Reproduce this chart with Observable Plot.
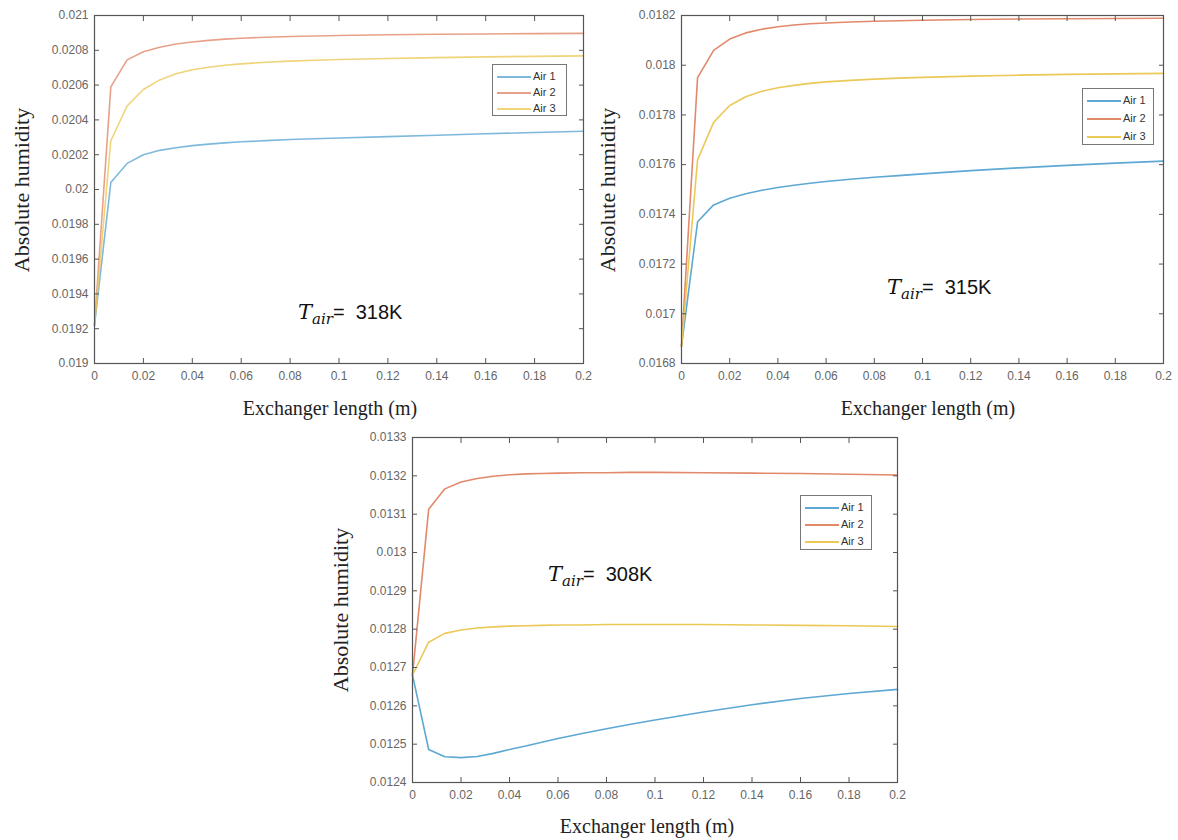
<!DOCTYPE html>
<html>
<head>
<meta charset="utf-8">
<script src="https://cdn.jsdelivr.net/npm/d3@7"></script>
<script src="https://cdn.jsdelivr.net/npm/@observablehq/plot@0.6"></script>
<style>
  body { margin: 0; background: #fff; }
  #root { position: relative; width: 1178px; height: 840px; overflow: hidden; background: #fff; font-family: "Liberation Sans", Arial, sans-serif; }
  .panel { position: absolute; }
  .xt, .yt { position: absolute; font-family: "Liberation Serif", "Times New Roman", serif; color: #222; white-space: nowrap; }
  .xt { font-size: 20px; transform: translate(-50%, -50%); }
  .yt { font-size: 22px; transform: translate(-50%, -50%) rotate(-90deg); }
  .ann { position: absolute; white-space: nowrap; line-height: 20px; color: #111; font-family: "Liberation Sans", Arial, sans-serif; font-size: 20px; }
  .ann .T { font-family: "DejaVu Serif", "Liberation Serif", serif; font-style: italic; font-size: 21px; }
  .ann .sub { font-family: "DejaVu Serif", "Liberation Serif", serif; font-style: italic; font-size: 15px; position: relative; top: 5px; }
  .leg { position: absolute; border: 1.5px solid #777; background: #fff; box-sizing: border-box; }
  .leg .row { position: absolute; left: 0; height: 14px; width: 100%; }
  .leg .ln { position: absolute; left: 4px; width: 34px; top: 7px; height: 2px; }
  .leg .lb { position: absolute; left: 40px; top: 0px; font-size: 11px; color: #333; line-height: 14px; }
</style>
</head>
<body>
<div id="root"></div>
<script>
// ---------- data ----------
const seriesNames = ["Air 1", "Air 2", "Air 3"];
const seriesColors = ["#5ea8d3", "#e2896b", "#ebc957"];

const xLength = [0, 0.00667, 0.01333, 0.02, 0.02667, 0.03333, 0.04, 0.04667, 0.05333, 0.06, 0.07, 0.08, 0.09, 0.1, 0.12, 0.14, 0.16, 0.18, 0.2];

// T_air = 318K
const air1_318 = [0.01922, 0.02004, 0.02015, 0.0202, 0.020225, 0.02024, 0.020252, 0.020261, 0.020268, 0.020274, 0.020281, 0.020287, 0.020292, 0.020296, 0.020304, 0.020312, 0.02032, 0.020328, 0.020335];
const air2_318 = [0.01922, 0.02059, 0.020745, 0.020792, 0.020818, 0.020836, 0.020848, 0.020857, 0.020864, 0.020869, 0.020875, 0.020879, 0.020882, 0.020885, 0.020889, 0.020892, 0.020894, 0.020896, 0.020897];
const air3_318 = [0.01922, 0.02028, 0.02048, 0.020575, 0.02063, 0.020665, 0.020688, 0.020703, 0.020714, 0.020722, 0.020731, 0.020738, 0.020743, 0.020747, 0.020753, 0.020758, 0.020762, 0.020765, 0.020768];

// T_air = 315K
const air1_315 = [0.01687, 0.01737, 0.017438, 0.017465, 0.017483, 0.017497, 0.017508, 0.017517, 0.017525, 0.017532, 0.017541, 0.017549, 0.017556, 0.017563, 0.017576, 0.017587, 0.017597, 0.017606, 0.017614];
const air2_315 = [0.01687, 0.01795, 0.01806, 0.018105, 0.01813, 0.018145, 0.018155, 0.018162, 0.018167, 0.01817, 0.018174, 0.018177, 0.018179, 0.018181, 0.018184, 0.018186, 0.018187, 0.018188, 0.018189];
const air3_315 = [0.01687, 0.01762, 0.01777, 0.017838, 0.017873, 0.017895, 0.017909, 0.017919, 0.017927, 0.017933, 0.017939, 0.017944, 0.017948, 0.017951, 0.017956, 0.01796, 0.017963, 0.017965, 0.017967];

// T_air = 308K
const air1_308 = [0.01268, 0.012486, 0.012467, 0.012465, 0.012468, 0.012476, 0.012486, 0.012495, 0.012505, 0.012515, 0.012528, 0.01254, 0.012552, 0.012563, 0.012584, 0.012603, 0.012619, 0.012632, 0.012643];
const air2_308 = [0.01268, 0.013113, 0.013166, 0.013184, 0.013193, 0.013199, 0.013203, 0.013205, 0.013206, 0.013207, 0.013208, 0.013208, 0.013209, 0.013209, 0.013208, 0.013207, 0.013206, 0.013204, 0.013202];
const air3_308 = [0.01268, 0.012766, 0.012789, 0.012798, 0.012803, 0.012806, 0.012808, 0.012809, 0.01281, 0.012811, 0.012811, 0.012812, 0.012812, 0.012812, 0.012812, 0.012811, 0.01281, 0.012809, 0.012807];

// tick labels
const xTicks = [0, 0.02, 0.04, 0.06, 0.08, 0.1, 0.12, 0.14, 0.16, 0.18, 0.2];
const yTicks318 = [0.019, 0.0192, 0.0194, 0.0196, 0.0198, 0.02, 0.0202, 0.0204, 0.0206, 0.0208, 0.021];
const yTicks315 = [0.0168, 0.017, 0.0172, 0.0174, 0.0176, 0.0178, 0.018, 0.0182];
const yTicks308 = [0.0124, 0.0125, 0.0126, 0.0127, 0.0128, 0.0129, 0.013, 0.0131, 0.0132, 0.0133];

const xTitle = "Exchanger length (m)";
const yTitle = "Absolute humidity";
const temps = ["318K", "315K", "308K"];

// ---------- layout ----------
const panels = [
  { series: [air1_318, air2_318, air3_318], yTicks: yTicks318, temp: temps[0], op: 0.8,
    left: 0, top: 0, w: 590, h: 420, fl: 94, fr: 583, ft: 15, fb: 363,
    xt: [330, 408], yt: [22, 190], ann: [298, 318], leg: [492, 64, 75, 52] },
  { series: [air1_315, air2_315, air3_315], yTicks: yTicks315, temp: temps[1], op: 1,
    left: 590, top: 0, w: 588, h: 420, fl: 681, fr: 1163, ft: 15, fb: 363,
    xt: [928, 408], yt: [608, 190], ann: [887, 293], leg: [1082, 88, 72, 57] },
  { series: [air1_308, air2_308, air3_308], yTicks: yTicks308, temp: temps[2], op: 1,
    left: 320, top: 420, w: 600, h: 420, fl: 412, fr: 897, ft: 437, fb: 782,
    xt: [647, 826], yt: [341, 610], ann: [548, 580], leg: [800, 495, 72, 55] }
];

const root = document.getElementById("root");
const fmt = d => String(d);

panels.forEach(p => {
  const rows = [];
  p.series.forEach((vals, si) => vals.forEach((v, i) => rows.push({ x: xLength[i], y: v, s: seriesNames[si] })));
  const yDomain = [p.yTicks[0], p.yTicks[p.yTicks.length - 1]];

  const chart = Plot.plot({
    width: p.w, height: p.h,
    marginLeft: p.fl - p.left, marginRight: p.left + p.w - p.fr,
    marginTop: p.ft - p.top, marginBottom: p.top + p.h - p.fb,
    style: { fontFamily: "'Liberation Sans', Arial, sans-serif", fontSize: "12px", color: "#666", background: "transparent", overflow: "visible" },
    x: { domain: [0, 0.2] },
    y: { domain: yDomain },
    color: { domain: seriesNames, range: seriesColors },
    marks: [
      Plot.line(rows, { x: "x", y: "y", stroke: "s", strokeWidth: 1.6, strokeOpacity: p.op }),
      Plot.frame({ stroke: "#555", strokeWidth: 1.2 }),
      Plot.axisX({ ticks: xTicks, tickFormat: fmt, tickSize: -5, tickPadding: 13, label: null, stroke: "#555", fill: "#666" }),
      Plot.axisX({ anchor: "top", ticks: xTicks, tickFormat: () => "", tickSize: -5, label: null, stroke: "#555" }),
      Plot.axisY({ ticks: p.yTicks, tickFormat: fmt, tickSize: -5, tickPadding: 11, label: null, stroke: "#555", fill: "#666" }),
      Plot.axisY({ anchor: "right", ticks: p.yTicks, tickFormat: () => "", tickSize: -5, label: null, stroke: "#555" })
    ]
  });
  const holder = document.createElement("div");
  holder.className = "panel";
  holder.style.left = p.left + "px";
  holder.style.top = p.top + "px";
  holder.appendChild(chart);
  root.appendChild(holder);

  const xt = document.createElement("div");
  xt.className = "xt"; xt.textContent = xTitle;
  xt.style.left = p.xt[0] + "px"; xt.style.top = p.xt[1] + "px";
  root.appendChild(xt);

  const yt = document.createElement("div");
  yt.className = "yt"; yt.textContent = yTitle;
  yt.style.left = p.yt[0] + "px"; yt.style.top = p.yt[1] + "px";
  root.appendChild(yt);

  const ann = document.createElement("div");
  ann.className = "ann";
  ann.style.left = p.ann[0] + "px"; ann.style.top = (p.ann[1] - 16) + "px";
  ann.innerHTML = '<span class="T">T</span><span class="sub">air</span>=&nbsp; ' + p.temp;
  root.appendChild(ann);

  const leg = document.createElement("div");
  leg.className = "leg";
  leg.style.left = p.leg[0] + "px"; leg.style.top = p.leg[1] + "px";
  leg.style.width = p.leg[2] + "px"; leg.style.height = p.leg[3] + "px";
  seriesNames.forEach((n, i) => {
    const r = document.createElement("div");
    r.className = "row";
    r.style.top = Math.round(4 + i * (p.leg[3] - 12) / 2.5) + "px";
    r.innerHTML = '<div class="ln" style="background:' + seriesColors[i] + ';opacity:' + p.op + '"></div><div class="lb">' + n + '</div>';
    leg.appendChild(r);
  });
  root.appendChild(leg);
});
</script>
</body>
</html>
